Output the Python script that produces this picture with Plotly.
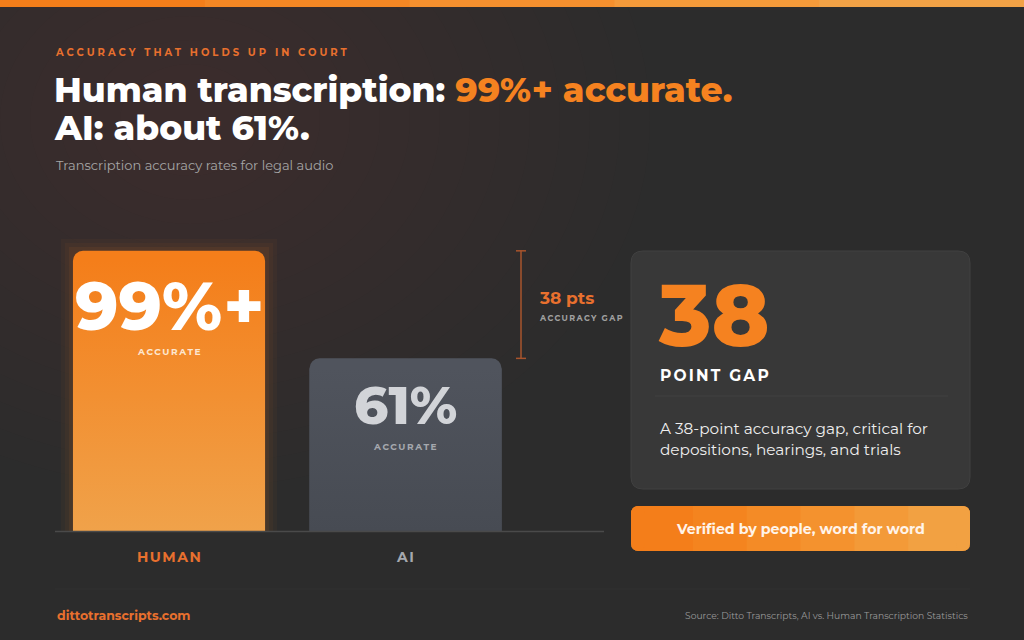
import plotly.graph_objects as go

# ---- data ----
categories = ["HUMAN", "AI"]
accuracy = [99, 61]
value_labels = ["99%+", "61%"]
gap_points = 38

W, H = 1024, 640
def px(x): return x / W
def py(y): return 1 - y / H

BG = "#2c2c2c"
ORANGE = "#f58220"
FONT = "Montserrat, Inter, 'Open Sans', sans-serif"
BAR_W = 0.812

fig = go.Figure()

# bars (x domain 55..604 px, y 0 at 531px, 100 at 248px)
bar_top = ["#f47e1a", "#50545d"]
bar_bottom = ["#f0a24a", "#474b53"]
fig.add_trace(go.Bar(
    x=[0, 1], y=accuracy, width=BAR_W,
    marker=dict(color=bar_top, line=dict(width=0)),
    hoverinfo="skip", showlegend=False,
))
# vertical gradient overlay on each bar body (below rounded top)
for i, v in enumerate(accuracy):
    x0, x1 = i - BAR_W / 2, i + BAR_W / 2
    top = v - 3.6
    fig.add_trace(go.Scatter(
        x=[x0, x1, x1, x0, x0], y=[0, 0, top, top, 0],
        mode="lines", fill="toself", line=dict(width=0),
        fillgradient=dict(type="vertical", colorscale=[[0, bar_bottom[i]], [1, bar_top[i]]]),
        hoverinfo="skip", showlegend=False,
    ))

fig.update_layout(
    width=W, height=H,
    margin=dict(l=0, r=0, t=0, b=0),
    paper_bgcolor=BG, plot_bgcolor="rgba(0,0,0,0)",
    barcornerradius=10,
    xaxis=dict(domain=[px(55), px(604)], range=[-0.482, 1.839], visible=False, fixedrange=True),
    yaxis=dict(domain=[py(531), py(248)], range=[0, 100], visible=False, fixedrange=True),
    font=dict(family=FONT, color="#ffffff"),
    hovermode=False,
)

shapes = []
# background glow (top-left), many faint layers
cx, cy = 190, 120
for k in range(14):
    r = 460 - k * 30
    shapes.append(dict(type="circle", xref="paper", yref="paper", layer="below",
                       x0=px(cx - r), x1=px(cx + r), y0=py(cy + r * 0.8), y1=py(cy - r * 0.8),
                       fillcolor="#9a5025", opacity=0.014, line=dict(width=0)))
# glow around human bar
for g, op in [(12, 0.035), (8, 0.045), (4, 0.07)]:
    shapes.append(dict(type="rect", xref="paper", yref="paper", layer="below",
                       x0=px(73 - g), x1=px(265 + g), y0=py(531), y1=py(251 - g),
                       fillcolor="#f58220", opacity=op, line=dict(width=0)))
# top stripe
stripe_cols = ["#f47e1a", "#f48724", "#f5902e", "#f49a3a", "#f2a246"]
for i, c in enumerate(stripe_cols):
    shapes.append(dict(type="rect", xref="paper", yref="paper",
                       x0=i / 5, x1=(i + 1) / 5 + 0.001, y0=py(7), y1=1,
                       fillcolor=c, line=dict(width=0)))
# baseline
shapes.append(dict(type="line", xref="paper", yref="paper", x0=px(55), x1=px(604),
                   y0=py(531.5), y1=py(531.5), line=dict(color="#4a4a4a", width=1.5)))
# footer divider (very faint)
shapes.append(dict(type="line", xref="paper", yref="paper", x0=px(55), x1=px(970),
                   y0=py(589), y1=py(589), line=dict(color="#303030", width=1)))
# gap bracket (in data y coordinates)
gx = px(521)
shapes.append(dict(type="line", xref="paper", yref="y", x0=gx, x1=gx,
                   y0=accuracy[1], y1=accuracy[0], line=dict(color="#a9542c", width=1.5)))
for v in accuracy:
    shapes.append(dict(type="line", xref="paper", yref="y", x0=px(516), x1=px(526),
                       y0=v, y1=v, line=dict(color="#a9542c", width=1.5)))

def rrect(x0, y0, x1, y1, r, fill, line=None):
    path = (f"M {px(x0+r)} {py(y0)} L {px(x1-r)} {py(y0)} Q {px(x1)} {py(y0)} {px(x1)} {py(y0+r)} "
            f"L {px(x1)} {py(y1-r)} Q {px(x1)} {py(y1)} {px(x1-r)} {py(y1)} "
            f"L {px(x0+r)} {py(y1)} Q {px(x0)} {py(y1)} {px(x0)} {py(y1-r)} "
            f"L {px(x0)} {py(y0+r)} Q {px(x0)} {py(y0)} {px(x0+r)} {py(y0)} Z")
    return dict(type="path", xref="paper", yref="paper", path=path, fillcolor=fill,
                line=line or dict(width=0))

# card
shapes.append(rrect(631, 251, 970, 489, 12, "#383838", dict(color="#404040", width=1)))
shapes.append(dict(type="line", xref="paper", yref="paper", x0=px(655), x1=px(948),
                   y0=py(396), y1=py(396), line=dict(color="#404040", width=1)))
# button with stepped gradient
btn_cols = ["#f47e1a", "#f4841f", "#f48b26", "#f4922e", "#f39a38", "#f2a142"]
shapes.append(rrect(631, 506, 970, 551, 8, "#f48b26"))
n = len(btn_cols)
seg = (970 - 631 - 16) / n
for i, c in enumerate(btn_cols):
    x0 = 631 + 8 + i * seg
    shapes.append(dict(type="rect", xref="paper", yref="paper",
                       x0=px(x0), x1=px(x0 + seg + 0.5), y0=py(551), y1=py(506),
                       fillcolor=c, line=dict(width=0)))
shapes.append(rrect(631, 506, 645, 551, 8, btn_cols[0]))
shapes.append(rrect(956, 506, 970, 551, 8, btn_cols[-1]))
fig.update_layout(shapes=shapes)

ann = []
def t(x, y, text, size, color="#ffffff", weight="normal", xanchor="left", yanchor="middle",
      xref="paper", yref="paper", ls=None, height=None):
    if ls:
        text = f"<span style='letter-spacing:{ls}px'>{text}</span>"
    a = dict(x=x, y=y, xref=xref, yref=yref, text=text, showarrow=False,
             xanchor=xanchor, yanchor=yanchor,
             font=dict(size=size, color=color, family=FONT, weight=weight))
    if height:
        a["height"] = height
    ann.append(a)

# header
t(px(53), py(53), "ACCURACY THAT HOLDS UP IN COURT", 10, "#e8702e", "bold", ls=3.0)
t(px(52), py(90), f"Human transcription: <span style='color:{ORANGE}'>99%+ accurate.</span>", 34.5, "#ffffff", 800)
t(px(52), py(128), "AI: about 61%.", 34.5, "#ffffff", 800)
t(px(54), py(165), "Transcription accuracy rates for legal audio", 13, "#a6a6a6")

# bar labels (placed relative to bar values)
t(0, accuracy[0] - 19.5, value_labels[0], 67, "#ffffff", 800, "center", xref="x", yref="y", height=70)
t(0, accuracy[0] - 35.5, "ACCURATE", 9, "#fde6cf", "bold", "center", xref="x", yref="y", ls=1.6)
t(1, accuracy[1] - 16.5, value_labels[1], 53, "#d2d4d8", 800, "center", xref="x", yref="y", height=56)
t(1, accuracy[1] - 31, "ACCURATE", 9, "#a5a8ae", "bold", "center", xref="x", yref="y", ls=1.6)

# categories
t(0, py(557), categories[0], 14, "#e8702e", "bold", "center", xref="x", ls=1.5)
t(1, py(557), categories[1], 14, "#a5a8ae", "bold", "center", xref="x", ls=1.5)

# gap label
t(px(537), py(298), f"{gap_points} pts", 17, "#e8702e", "bold")
t(px(537), py(318), "ACCURACY GAP", 8, "#a0a0a0", "bold", ls=1.4)

# card texts
t(px(656), py(315), str(gap_points), 87, ORANGE, 800, height=66)
t(px(658), py(375), "POINT GAP", 15.5, "#ffffff", "bold", ls=2.2)
t(px(658), py(428), f"A {gap_points}-point accuracy gap, critical for", 15.3, "#eeeeee")
t(px(658), py(449), "depositions, hearings, and trials", 15.3, "#eeeeee")

# button text
t(px(800), py(529), "Verified by people, word for word", 14.2, "#fff4ea", "bold", "center")

# footer
t(px(55), py(615), "dittotranscripts.com", 12.5, "#e8702e", "bold")
t(px(970), py(615), "Source: Ditto Transcripts, AI vs. Human Transcription Statistics", 9.2, "#9a9a9a", "normal", "right")

fig.update_layout(annotations=ann)
fig.write_html("out.html", config={"displayModeBar": False, "staticPlot": True},
               post_script="document.body.style.margin='0';document.body.style.overflow='hidden';")
